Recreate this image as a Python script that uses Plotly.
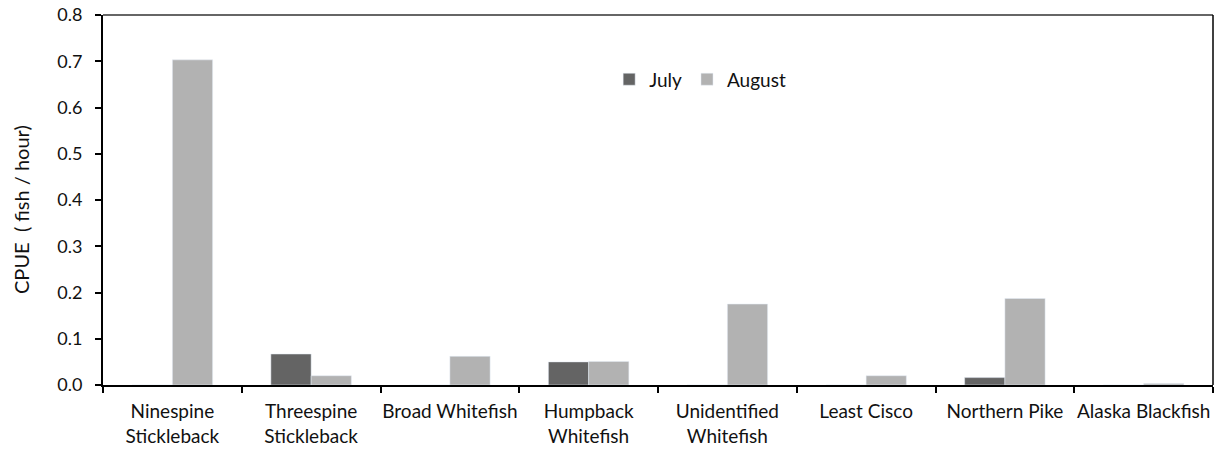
import plotly.graph_objects as go

categories = ["Ninespine<br>Stickleback", "Threespine<br>Stickleback", "Broad Whitefish",
              "Humpback<br>Whitefish", "Unidentified<br>Whitefish", "Least Cisco",
              "Northern Pike", "Alaska Blackfish"]
july = [0.0, 0.067, 0.0, 0.050, 0.0, 0.0, 0.016, 0.0]
august = [0.703, 0.020, 0.062, 0.051, 0.175, 0.020, 0.187, 0.003]
y_ticks = [0.0, 0.1, 0.2, 0.3, 0.4, 0.5, 0.6, 0.7, 0.8]
y_tick_labels = ["0.0", "0.1", "0.2", "0.3", "0.4", "0.5", "0.6", "0.7", "0.8"]

FONT = "Lato, 'Open Sans', sans-serif"

fig = go.Figure()
fig.add_trace(go.Bar(x=categories, y=july, name="July", marker_color="#646464"))
fig.add_trace(go.Bar(x=categories, y=august, name="August", marker_color="#b2b2b2"))

fig.update_layout(
    width=1219, height=450,
    margin=dict(l=103, r=6, t=15, b=65, autoexpand=False),
    paper_bgcolor="white", plot_bgcolor="white",
    barmode="group", bargap=0.42, bargroupgap=0,
    font=dict(family=FONT, size=19, color="#111111"),
    legend=dict(orientation="h", x=0.456, y=0.826, xanchor="left", yanchor="middle",
                font=dict(size=19), itemwidth=30, traceorder="normal",
                bgcolor="rgba(0,0,0,0)"),
    showlegend=True,
)
fig.update_xaxes(
    showline=True, linecolor="black", linewidth=2, automargin=False, tickangle=0,
    ticks="outside", tickson="boundaries", ticklen=6, tickcolor="black", tickwidth=1.5,
    showgrid=False, tickfont=dict(size=19), ticklabelstandoff=8,
)
fig.update_yaxes(
    range=[0, 0.8], tickvals=y_ticks, ticktext=y_tick_labels, automargin=False,
    showline=True, linecolor="black", linewidth=2,
    ticks="outside", ticklen=6, tickcolor="black", tickwidth=1.5,
    showgrid=False, zeroline=False, tickfont=dict(size=18), ticklabelstandoff=9,
)
fig.add_annotation(text="CPUE  ( fish / hour)", textangle=-90, showarrow=False,
                   xref="paper", yref="paper", x=-(103 - 21) / 1110, y=0.473,
                   xanchor="center", yanchor="middle", font=dict(size=20))
fig.add_shape(type="line", xref="paper", yref="paper", x0=0, x1=1, y0=1, y1=1,
              line=dict(color="#333333", width=1.5))
fig.add_shape(type="line", xref="paper", yref="paper", x0=1, x1=1, y0=0, y1=1,
              line=dict(color="black", width=1.5))

# remove the browser's default 8px page margin so the figure sits at the page origin
fig.write_html("out.html", config={"displayModeBar": False},
               post_script="document.body.style.margin='0';")
